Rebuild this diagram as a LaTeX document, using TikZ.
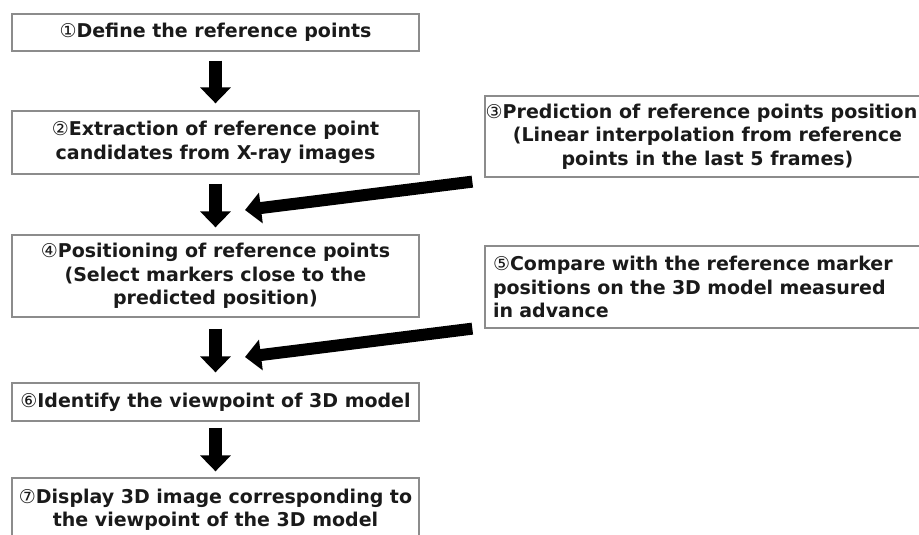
\documentclass[tikz,border=0pt]{standalone}
\usepackage{fontspec}
\setmainfont{DejaVu Sans}
\usetikzlibrary{arrows.meta}
\definecolor{boxgray}{HTML}{8C8C8C}
\definecolor{inkblack}{HTML}{1A1A1A}
\newcommand{\stepno}[1]{{\mdseries #1}}
\begin{document}
\begin{tikzpicture}[x=1pt,y=-1pt,
  stepbox/.style={draw=boxgray, line width=1.3pt, fill=white, inner sep=0pt,
    font=\bfseries\fontsize{19}{23.5}\selectfont, align=center, text=inkblack},
  bigdown/.style={draw=black, line width=13pt, -{Triangle[width=30pt,length=16pt]}},
  bigside/.style={draw=black, line width=12pt, -{Triangle[width=30pt,length=16pt]}}]
\useasboundingbox[fill=white] (0,0) rectangle (919,535);

% main column
\node[stepbox, minimum width=407pt, minimum height=37pt] (b1) at (215.5,32.5)
  {\stepno{①}Define the reference points};
\node[stepbox, minimum width=407pt, minimum height=63pt] (b2) at (215.5,142.5)
  {\stepno{②}Extraction of reference point\\candidates from X-ray images};
\node[stepbox, minimum width=407pt, minimum height=82pt] (b4) at (215.5,276)
  {\stepno{④}Positioning of reference points\\(Select markers close to the\\predicted position)};
\node[stepbox, minimum width=407pt, minimum height=38pt] (b6) at (215.5,402)
  {\stepno{⑥}Identify the viewpoint of 3D model};
\node[stepbox, minimum width=407pt, minimum height=64pt] (b7) at (215.5,510)
  {\stepno{⑦}Display 3D image corresponding to\\the viewpoint of the 3D model};

% side column (the boxes run on past the right edge)
\node[stepbox, minimum width=445pt, minimum height=81pt] (b3) at (707.5,136.5)
  {\stepno{③}Prediction of reference points position\hspace*{12pt}\\(Linear interpolation from reference\\points in the last 5 frames)};
\node[stepbox, minimum width=445pt, minimum height=82pt, text width=429pt,
  inner xsep=8pt, align=left] (b5) at (707.5,287)
  {\stepno{⑤}Compare with the reference marker\\positions on the 3D model measured\\in advance};

% downward flow
\draw[bigdown] ([yshift=-9pt]b1.south) -- ([yshift=7pt]b2.north);
\draw[bigdown] ([yshift=-9pt]b2.south) -- ([yshift=7pt]b4.north);
\draw[bigdown] ([yshift=-11pt]b4.south) -- ([yshift=10pt]b6.north);
\draw[bigdown] ([yshift=-6pt]b6.south) -- ([yshift=6pt]b7.north);

% inputs from the side column
\coordinate (p3) at ([xshift=-12pt,yshift=-4pt]b3.south west);
\coordinate (q3) at (245,210);
\coordinate (p5) at ([xshift=-12pt]b5.south west);
\coordinate (q5) at (245,357);
\draw[bigside] (p3) -- (q3);
\draw[bigside] (p5) -- (q5);
\end{tikzpicture}
\end{document}
